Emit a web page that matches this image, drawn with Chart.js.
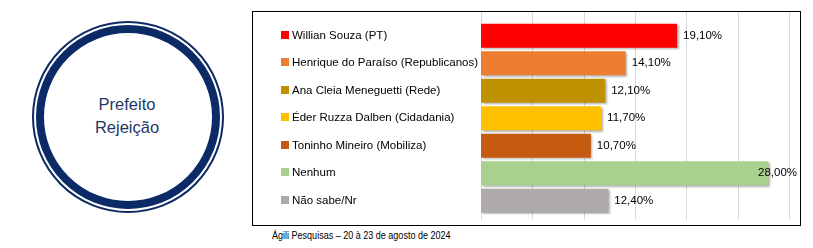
<!DOCTYPE html>
<html>
<head>
<meta charset="utf-8">
<script src="https://cdn.jsdelivr.net/npm/chart.js@4"></script>
<style>
  html, body { margin: 0; padding: 0; background: #fff; }
  body { width: 813px; height: 248px; position: relative; overflow: hidden; font-family: 'Liberation Sans', Arial, sans-serif; }
  .ring-outer { position: absolute; left: 32px; top: 21px; width: 188px; height: 188px; border: 2px solid #0b2a66; border-radius: 50%; }
  .ring-inner { position: absolute; left: 36px; top: 25px; width: 168px; height: 168px; border: 8px solid #0b2a66; border-radius: 50%; }
  .ring-text { position: absolute; left: 67px; top: 93px; width: 120px; text-align: center; color: #1f3864; font-size: 16.5px; line-height: 23px; }
  .box { position: absolute; left: 252px; top: 11px; width: 547px; height: 213px; border: 1px solid #000; }
  .plot { position: absolute; left: 253px; top: 12px; width: 547px; height: 213px; }
  .footer { position: absolute; left: 272px; top: 229px; font-size: 11px; color: #000; white-space: nowrap; transform: scaleX(0.82); transform-origin: left top; }
</style>
</head>
<body>
<div class="ring-outer"></div>
<div class="ring-inner"></div>
<div class="ring-text">Prefeito<br>Rejeição</div>
<div class="box"></div>
<div class="plot"><canvas id="c"></canvas></div>
<div class="footer">Ágili Pesquisas – 20 à 23 de agosto de 2024</div>
<script>
const categories = [
  'Willian Souza (PT)',
  'Henrique do Paraíso (Republicanos)',
  'Ana Cleia Meneguetti (Rede)',
  'Éder Ruzza Dalben (Cidadania)',
  'Toninho Mineiro (Mobiliza)',
  'Nenhum',
  'Não sabe/Nr',
]
const values = [19.1, 14.1, 12.1, 11.7, 10.7, 28.0, 12.4]
const barColors = ['#ff0000', '#ed7d31', '#bf9000', '#ffc000', '#c55a11', '#a9d18e', '#aeaaaa']
const axisMax = 30
const axisStep = 5

const FONT = "'Liberation Sans', Arial, sans-serif"
const fmt = (v) => v.toFixed(2).replace('.', ',') + '%'

// gridlines run the full height of the frame, past the chart area
const gridPlugin = {
  id: 'grid',
  beforeDatasetsDraw(chart) {
    const { ctx } = chart
    const x = chart.scales.x
    ctx.save()
    ctx.strokeStyle = '#d9d9d9'
    ctx.lineWidth = 1
    for (const t of x.ticks) {
      const px = Math.round(x.getPixelForValue(t.value)) + 0.5
      ctx.beginPath()
      ctx.moveTo(px, 0)
      ctx.lineTo(px, 208)
      ctx.stroke()
    }
    ctx.restore()
  },
}

const shadowPlugin = {
  id: 'shadow',
  beforeDatasetsDraw(chart) {
    const { ctx } = chart
    ctx.save()
    ctx.shadowColor = 'rgba(0,0,0,0.3)'
    ctx.shadowOffsetX = 1.5
    ctx.shadowOffsetY = 1.5
    ctx.shadowBlur = 2
  },
  afterDatasetsDraw(chart) {
    chart.ctx.restore()
  },
}

// category keys on the left and value labels at the bar ends
const labelPlugin = {
  id: 'labels',
  afterDraw(chart) {
    const { ctx } = chart
    const y = chart.scales.y
    const meta = chart.getDatasetMeta(0)
    ctx.save()
    ctx.font = '11.5px ' + FONT
    ctx.textBaseline = 'middle'
    ctx.fillStyle = '#000'
    categories.forEach((name, i) => {
      const py = y.getPixelForValue(i)
      ctx.fillStyle = barColors[i]
      ctx.fillRect(28, Math.round(py) - 5, 8, 8)
      ctx.fillStyle = '#000'
      ctx.textAlign = 'left'
      ctx.fillText(name, 39, py)

      const bar = meta.data[i]
      const txt = fmt(values[i])
      const w = ctx.measureText(txt).width
      let tx = bar.x + 6
      if (tx + w > chart.width - 3) tx = chart.width - 3 - w
      ctx.fillText(txt, tx, py)
    })
    ctx.restore()
  },
}

new Chart(document.getElementById('c'), {
  type: 'bar',
  data: {
    labels: categories,
    datasets: [
      {
        data: values,
        backgroundColor: barColors,
        borderWidth: 0,
        barPercentage: 0.87,
        categoryPercentage: 1,
      },
    ],
  },
  options: {
    indexAxis: 'y',
    responsive: true,
    maintainAspectRatio: false,
    animation: false,
    layout: { padding: { left: 228, right: 11, top: 10, bottom: 10.5 } },
    scales: {
      x: { display: false, min: 0, max: axisMax, ticks: { stepSize: axisStep } },
      y: { display: false },
    },
    plugins: { legend: { display: false }, tooltip: { enabled: false } },
  },
  plugins: [gridPlugin, shadowPlugin, labelPlugin],
})
</script>
</body>
</html>
